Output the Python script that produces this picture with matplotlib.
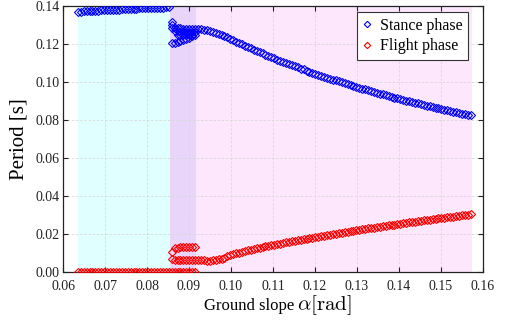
import numpy as np
import matplotlib
matplotlib.use("Agg")
import matplotlib.pyplot as plt

# ---------------- data (ground slope in degrees, period in s) ----------------
alpha_cyan_deg = [3.64, 3.68, 3.72, 3.76, 3.80, 3.84, 3.88, 3.92, 3.96, 4.00,
                  4.04, 4.08, 4.12, 4.16, 4.20, 4.24, 4.28, 4.32, 4.36, 4.40,
                  4.44, 4.48, 4.52, 4.56, 4.60, 4.64, 4.68, 4.72, 4.76, 4.80,
                  4.84, 4.88]
stance_cyan = [0.1368, 0.1370, 0.1372, 0.1373, 0.1374, 0.1375, 0.1375, 0.1376, 0.1377, 0.1378,
               0.1378, 0.1379, 0.1380, 0.1381, 0.1381, 0.1382, 0.1383, 0.1384, 0.1384, 0.1385,
               0.1386, 0.1387, 0.1387, 0.1388, 0.1389, 0.1390, 0.1390, 0.1391, 0.1392, 0.1392,
               0.1393, 0.1393]

alpha_purple_deg = [4.92, 4.96, 5.00, 5.04, 5.08, 5.12, 5.16, 5.20, 5.24]
flight_zero = [0.0] * 41   # flight period is zero from 3.64 to 5.24 deg

alpha_main_deg = [4.92, 4.96, 5.00, 5.04, 5.08, 5.12, 5.16, 5.20, 5.24, 5.28,
                  5.32, 5.36, 5.40, 5.44, 5.48, 5.52, 5.56, 5.60, 5.64, 5.68,
                  5.72, 5.76, 5.80, 5.84, 5.88, 5.92, 5.96, 6.00, 6.04, 6.08,
                  6.12, 6.16, 6.20, 6.24, 6.28, 6.32, 6.36, 6.40, 6.44, 6.48,
                  6.52, 6.56, 6.60, 6.64, 6.68, 6.72, 6.76, 6.80, 6.84, 6.88,
                  6.92, 6.96, 7.00, 7.04, 7.08, 7.12, 7.16, 7.20, 7.24, 7.28,
                  7.32, 7.36, 7.40, 7.44, 7.48, 7.52, 7.56, 7.60, 7.64, 7.68,
                  7.72, 7.76, 7.80, 7.84, 7.88, 7.92, 7.96, 8.00, 8.04, 8.08,
                  8.12, 8.16, 8.20, 8.24, 8.28, 8.32, 8.36, 8.40, 8.44, 8.48,
                  8.52, 8.56, 8.60, 8.64, 8.68, 8.72, 8.76, 8.80, 8.84, 8.88,
                  8.92, 8.96, 9.00]
stance_main = [0.1285, 0.1284, 0.1283, 0.1282, 0.1281, 0.1280, 0.1279, 0.1278, 0.1278, 0.1278,
               0.1277, 0.1275, 0.1272, 0.1268, 0.1264, 0.1259, 0.1255, 0.1250, 0.1242, 0.1235,
               0.1228, 0.1220, 0.1213, 0.1206, 0.1199, 0.1191, 0.1184, 0.1177, 0.1170, 0.1164,
               0.1157, 0.1151, 0.1144, 0.1138, 0.1131, 0.1125, 0.1118, 0.1112, 0.1106, 0.1100,
               0.1095, 0.1089, 0.1083, 0.1077, 0.1071, 0.1066, 0.1060, 0.1054, 0.1049, 0.1044,
               0.1038, 0.1033, 0.1028, 0.1023, 0.1018, 0.1013, 0.1008, 0.1003, 0.0998, 0.0993,
               0.0989, 0.0984, 0.0979, 0.0974, 0.0970, 0.0965, 0.0961, 0.0956, 0.0952, 0.0948,
               0.0943, 0.0939, 0.0935, 0.0931, 0.0927, 0.0922, 0.0918, 0.0914, 0.0910, 0.0906,
               0.0902, 0.0898, 0.0894, 0.0890, 0.0887, 0.0883, 0.0880, 0.0876, 0.0872, 0.0869,
               0.0865, 0.0862, 0.0858, 0.0854, 0.0851, 0.0847, 0.0844, 0.0840, 0.0837, 0.0834,
               0.0830, 0.0827, 0.0824]
flight_main = [0.0066, 0.0065, 0.0065, 0.0065, 0.0064, 0.0064, 0.0064, 0.0064, 0.0063, 0.0063,
               0.0062, 0.0061, 0.0060, 0.0060, 0.0061, 0.0063, 0.0066, 0.0070, 0.0076, 0.0082,
               0.0087, 0.0093, 0.0098, 0.0102, 0.0106, 0.0110, 0.0114, 0.0118, 0.0121, 0.0125,
               0.0128, 0.0132, 0.0135, 0.0138, 0.0141, 0.0144, 0.0147, 0.0150, 0.0153, 0.0156,
               0.0158, 0.0161, 0.0164, 0.0167, 0.0170, 0.0172, 0.0175, 0.0178, 0.0181, 0.0183,
               0.0186, 0.0188, 0.0191, 0.0194, 0.0196, 0.0199, 0.0201, 0.0204, 0.0207, 0.0209,
               0.0212, 0.0214, 0.0217, 0.0219, 0.0222, 0.0224, 0.0227, 0.0229, 0.0231, 0.0234,
               0.0236, 0.0239, 0.0241, 0.0243, 0.0245, 0.0248, 0.0250, 0.0252, 0.0254, 0.0256,
               0.0259, 0.0261, 0.0263, 0.0265, 0.0267, 0.0270, 0.0272, 0.0274, 0.0276, 0.0278,
               0.0280, 0.0282, 0.0284, 0.0286, 0.0288, 0.0290, 0.0292, 0.0294, 0.0296, 0.0298,
               0.0300, 0.0302, 0.0304]

# extra branches in the transition region
stance_top_deg = [4.92, 4.92]
stance_top = [0.1318, 0.1300]
stance_b2_deg = [4.96, 5.00, 5.04, 5.08, 5.12, 5.16, 5.20, 5.24]
stance_b2 = [0.1266, 0.1266, 0.1265, 0.1265, 0.1264, 0.1264, 0.1263, 0.1263]
stance_b3_deg = [5.00, 5.04, 5.08, 5.12, 5.16, 5.20]
stance_b3 = [0.1250, 0.1250, 0.1249, 0.1249, 0.1248, 0.1248]
stance_b4_deg = [4.92, 4.96, 5.00, 5.04, 5.08, 5.12, 5.16, 5.20, 5.24]
stance_b4 = [0.1203, 0.1207, 0.1212, 0.1217, 0.1222, 0.1228, 0.1234, 0.1240, 0.1246]
flight_up_deg = [4.92, 4.96, 5.00, 5.04, 5.08, 5.12, 5.16, 5.20, 5.24]
flight_up = [0.0104, 0.0128, 0.0128, 0.0129, 0.0129, 0.0129, 0.0129, 0.0129, 0.0129]

region_edges = [0.0636, 0.0855, 0.0917, 0.1573]
region_colors = ["#e0ffff", "#ead5fa", "#fde7fc"]

xticks = [0.06, 0.07, 0.08, 0.09, 0.10, 0.11, 0.12, 0.13, 0.14, 0.15, 0.16]
yticks = [0.00, 0.02, 0.04, 0.06, 0.08, 0.10, 0.12, 0.14]

# ---------------- assemble series ----------------
d2r = np.pi / 180.0
st_x = np.concatenate([alpha_cyan_deg, alpha_main_deg, stance_top_deg,
                       stance_b2_deg, stance_b3_deg, stance_b4_deg]) * d2r
st_y = np.concatenate([stance_cyan, stance_main, stance_top, stance_b2, stance_b3, stance_b4])
fl_x = np.concatenate([alpha_cyan_deg, alpha_purple_deg, alpha_main_deg, flight_up_deg]) * d2r
fl_y = np.concatenate([flight_zero, flight_main, flight_up])

# ---------------- plot ----------------
plt.rcParams["font.family"] = ["Liberation Serif", "DejaVu Serif"]
plt.rcParams["mathtext.fontset"] = "cm"

fig = plt.figure(figsize=(5.05, 3.24), dpi=100)
ax = fig.add_axes([63 / 505, 52 / 324, 420 / 505, 266 / 324])

for i, c in enumerate(region_colors):
    ax.axvspan(region_edges[i], region_edges[i + 1], color=c, lw=0, zorder=0)

mk = dict(linestyle="none", marker="D", markersize=3.8, markerfacecolor="none",
          markeredgewidth=0.8, zorder=3)
ax.plot(st_x, st_y, color="#0000ff", label="Stance phase", **mk)
ax.plot(fl_x, fl_y, color="#ff0000", label="Flight phase", **mk)

ax.set_xlim(0.06, 0.16)
ax.set_ylim(0.0, 0.14)
ax.set_xticks(xticks)
ax.set_yticks(yticks)
ax.xaxis.set_major_formatter(matplotlib.ticker.FormatStrFormatter("%.2f"))
ax.yaxis.set_major_formatter(matplotlib.ticker.FormatStrFormatter("%.2f"))
ax.tick_params(direction="in", top=True, right=True, length=3.5, width=0.8,
               labelsize=10, colors="#222222")
ax.tick_params(axis="x", pad=5.5)
ax.tick_params(axis="y", pad=2.5)
ax.set_axisbelow(True)
ax.grid(True, color="#d8d8d8", linestyle=(0, (3, 2)), linewidth=0.6)
for s in ax.spines.values():
    s.set_linewidth(0.9)
    s.set_color("#222222")

leg = ax.legend(loc="upper right", bbox_to_anchor=((468 - 63) / 420, (272 - 12) / 266),
                borderaxespad=0, fontsize=11.5, handlelength=0.6, handletextpad=0.5,
                labelspacing=0.3, borderpad=0.35, fancybox=False, framealpha=1,
                edgecolor="#333333", markerscale=0.85)
leg.get_frame().set_linewidth(0.8)

fig.text(294 / 505, (324 - 310) / 324, "Ground slope", ha="right", va="baseline",
         fontsize=12)
fig.text(297 / 505, (324 - 310) / 324, r"$\alpha[\mathrm{rad}]$", ha="left",
         va="baseline", fontsize=15)
fig.text(19 / 505, (324 - 139) / 324, "Period [s]", rotation=90, ha="center",
         va="center", fontsize=15)

fig.savefig("out.png", dpi=100)
